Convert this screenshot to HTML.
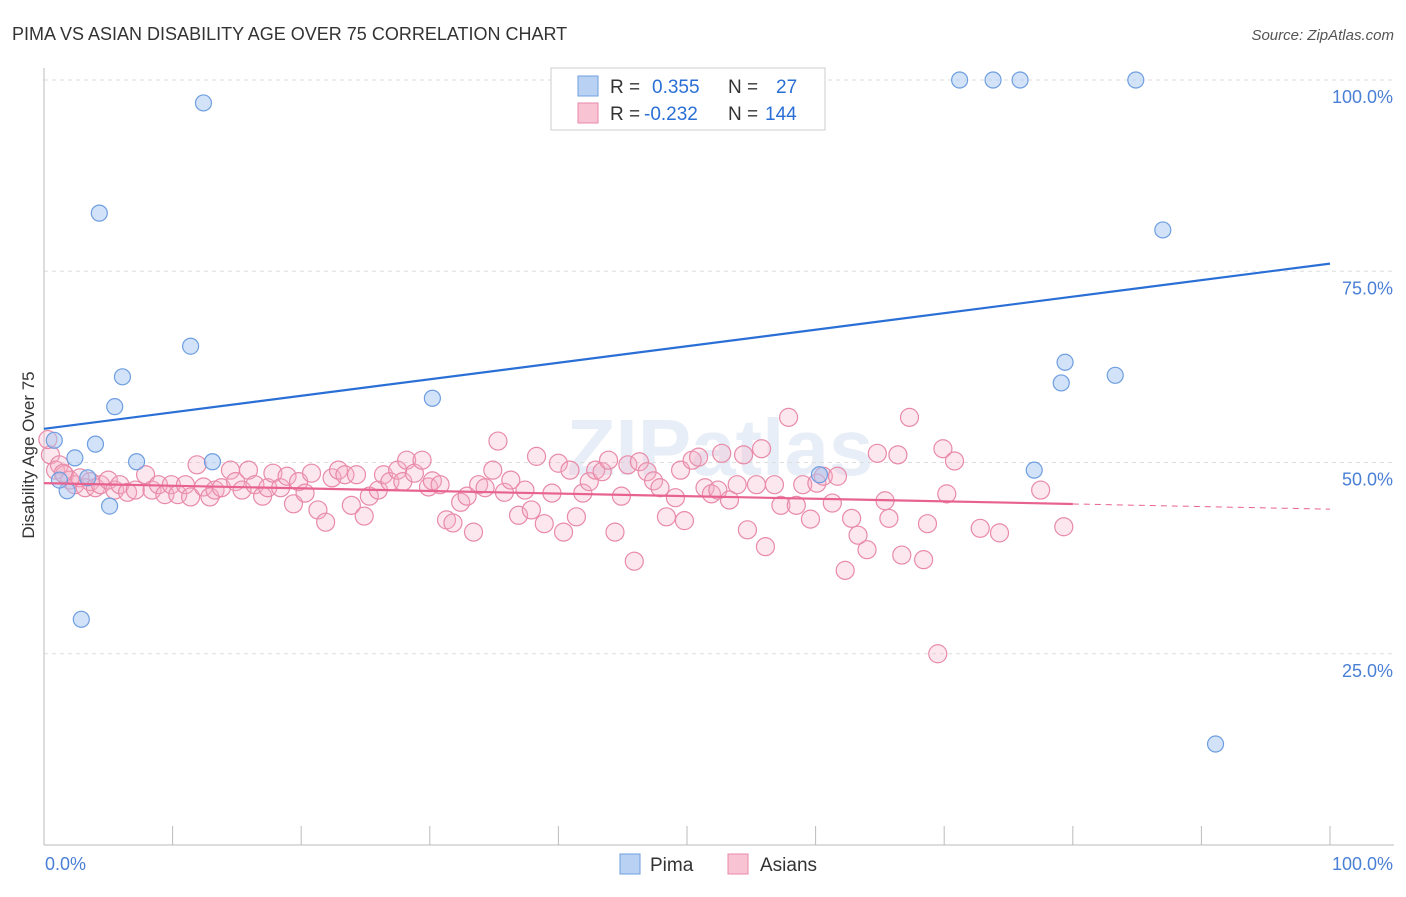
<!DOCTYPE html>
<html><head><meta charset="utf-8">
<style>
body{margin:0;background:#fff;font-family:"Liberation Sans",sans-serif;}
svg text{font-family:"Liberation Sans",sans-serif;}
</style></head>
<body>
<svg id="chart" width="1406" height="892" xmlns="http://www.w3.org/2000/svg">
<text x="12" y="40" font-size="18" fill="#333">PIMA VS ASIAN DISABILITY AGE OVER 75 CORRELATION CHART</text>
<text x="1394" y="40" font-size="15" fill="#555" font-style="italic" text-anchor="end">Source: ZipAtlas.com</text>
<text x="720" y="475" font-size="80" fill="#e8eef7" text-anchor="middle" font-weight="bold">ZIPatlas</text>
<g id="grid"></g>
<g id="axes"></g>
<g id="marks"></g>
<text transform="translate(34,455) rotate(-90)" font-size="17" fill="#333" text-anchor="middle">Disability Age Over 75</text>
<g>
<rect x="551" y="68" width="274" height="62" fill="#fff" stroke="#ccc"/>
<rect x="578" y="76" width="20" height="20" fill="#b9d1f3" stroke="#6e9ee0"/>
<rect x="578" y="103" width="20" height="20" fill="#f8c3d3" stroke="#e88aa8"/>
<text x="610" y="93" font-size="19" fill="#333">R = </text><text x="652" y="93" font-size="19" fill="#2a6fd6">0.355</text>
<text x="728" y="93" font-size="19" fill="#333">N = </text><text x="776" y="93" font-size="19" fill="#2a6fd6">27</text>
<text x="610" y="120" font-size="19" fill="#333">R = </text><text x="644" y="120" font-size="19" fill="#2a6fd6">-0.232</text>
<text x="728" y="120" font-size="19" fill="#333">N = </text><text x="765" y="120" font-size="19" fill="#2a6fd6">144</text>
</g>
<g>
<rect x="620" y="854" width="20" height="20" fill="#b9d1f3" stroke="#6e9ee0"/>
<text x="650" y="871" font-size="19" fill="#333">Pima</text>
<rect x="728" y="854" width="20" height="20" fill="#f8c3d3" stroke="#e88aa8"/>
<text x="760" y="871" font-size="19" fill="#333">Asians</text>
</g>
</svg>
<script>
const yTicks=[25,50,75,100];
const yTickLabels=["25.0%","50.0%","75.0%","100.0%"];
const pimaX=[12.4,4.3,11.4,6.1,5.5,4.0,0.8,2.4,7.2,13.1,30.2,1.8,5.1,2.9,1.2,3.4,71.2,73.8,75.9,84.9,87.0,79.4,79.1,83.3,77.0,91.1,60.3];
const pimaY=[97.0,82.6,65.2,61.2,57.3,52.4,52.9,50.6,50.1,50.1,58.4,46.3,44.3,29.5,47.7,48.0,100,100,100,100,80.4,63.1,60.4,61.4,49.0,13.2,48.4];
const asianX=[0.5,0.9,1.2,1.6,2.0,2.4,2.8,3.2,3.6,4.0,4.4,5.0,5.5,5.9,6.5,7.1,7.9,8.4,8.9,9.4,9.9,10.4,11.0,11.4,11.9,12.4,12.9,13.3,13.8,14.5,14.9,15.4,15.9,16.4,17.0,17.4,17.8,18.4,18.9,19.4,19.8,20.3,20.8,21.3,21.9,22.4,22.9,23.4,23.9,24.3,24.9,25.3,26.0,26.4,26.9,27.5,27.9,28.2,28.8,29.4,29.9,30.2,30.8,31.3,31.8,32.4,32.9,33.4,33.8,34.3,34.9,35.3,35.8,36.3,36.9,37.4,37.9,38.3,38.9,39.5,40.0,40.4,40.9,41.4,41.9,42.4,42.9,43.4,43.9,44.4,44.9,45.4,45.9,46.3,46.9,47.4,47.9,48.4,49.1,49.5,49.8,50.4,50.9,51.4,51.9,52.4,52.7,53.3,53.9,54.4,54.7,55.4,55.8,56.1,56.8,57.3,57.9,58.5,59.0,59.6,60.1,60.6,61.3,61.7,62.3,62.8,63.3,64.0,64.8,65.4,65.7,66.4,66.7,67.3,68.4,68.7,69.5,69.9,70.2,70.8,72.8,74.3,77.5,79.3,0.3,1.5];
const asianY=[51,49,49.7,48.4,47.7,47.1,48.0,46.7,47.5,46.7,47.1,47.7,46.4,47.1,46.1,46.4,48.4,46.4,47.1,45.8,47.1,45.8,47.1,45.5,49.7,46.8,45.5,46.4,46.7,49.0,47.5,46.4,49.0,47.1,45.6,46.7,48.6,46.7,48.2,44.6,47.5,46.0,48.6,43.8,42.2,48.0,49.0,48.4,44.4,48.4,43.0,45.6,46.4,48.4,47.5,49.0,47.5,50.3,48.6,50.3,46.8,47.6,47.1,42.5,42.1,44.8,45.6,40.9,47.1,46.7,49.0,52.8,46.1,47.7,43.1,46.4,43.8,50.8,42.0,46.0,49.9,40.9,49.0,42.9,46.0,47.5,49.0,48.8,50.3,40.9,45.6,49.7,37.1,50.1,48.8,47.6,46.7,42.9,45.4,49.0,42.4,50.3,50.7,46.7,45.9,46.4,51.2,45.1,47.1,51.0,41.2,47.1,51.8,39.0,47.1,44.4,55.9,44.4,47.1,42.6,47.3,48.2,44.7,48.2,35.9,42.7,40.5,38.6,51.2,45.0,42.7,51.0,37.9,55.9,37.3,42.0,25.0,51.8,45.9,50.2,41.4,40.8,46.4,41.6,53,48.6];
const pimaTrend=[54.4,76.0];
const asianTrend=[47.3,43.9];
const X0=44,X1=1330,Y0=845,Y100=80;
const sx=v=>X0+(X1-X0)*v/100;
const sy=v=>Y0-(Y0-Y100)*v/100;
const NS="http://www.w3.org/2000/svg";
function mk(t,a,p){const e=document.createElementNS(NS,t);for(const k in a)e.setAttribute(k,a[k]);p.appendChild(e);return e;}
const grid=document.getElementById('grid'),axes=document.getElementById('axes'),marks=document.getElementById('marks');
yTicks.forEach((t,i)=>{
 const l=mk('line',{x1:X0,x2:1394,y1:sy(t),y2:sy(t),stroke:'#ddd','stroke-dasharray':'4,4'},grid);
 
 
 const tx=mk('text',{x:1393,y:sy(t)+23,'font-size':18,fill:'#4a7fd6','text-anchor':'end'},axes);
 tx.textContent=yTickLabels[i];
 
 
});
const ax=mk('line',{x1:X0,x2:1394,y1:Y0,y2:Y0,stroke:'#bbb'},axes);


const ay=mk('line',{x1:X0,x2:X0,y1:68,y2:Y0,stroke:'#bbb'},axes);


for(let i=0;i<=10;i++){
 const tk=mk('line',{x1:sx(i*10),x2:sx(i*10),y1:826,y2:Y0,stroke:'#bbb'},axes);
 
 
}
const xl0=mk('text',{x:45,y:870,'font-size':18,fill:'#4a7fd6'},axes);xl0.textContent='0.0%';


const xl1=mk('text',{x:1393,y:870,'font-size':18,fill:'#4a7fd6','text-anchor':'end'},axes);xl1.textContent='100.0%';


asianX.forEach((x,i)=>{
 const c=mk('circle',{cx:sx(x),cy:sy(asianY[i]),r:9,fill:'rgba(245,175,198,0.3)',stroke:'#e88aa8','stroke-width':1.2},marks);
 
 
});
pimaX.forEach((x,i)=>{
 const c=mk('circle',{cx:sx(x),cy:sy(pimaY[i]),r:8,fill:'rgba(165,198,242,0.5)',stroke:'#6e9ee0','stroke-width':1.2},marks);
 
 
});
const pt=mk('line',{x1:sx(0),y1:sy(pimaTrend[0]),x2:sx(100),y2:sy(pimaTrend[1]),stroke:'#2a6fd6','stroke-width':2.2},marks);


const at=(v)=>asianTrend[0]+(asianTrend[1]-asianTrend[0])*v/100;
const a1=mk('line',{x1:sx(0),y1:sy(at(0)),x2:sx(80),y2:sy(at(80)),stroke:'#e8628f','stroke-width':2.2},marks);


const a2=mk('line',{x1:sx(80),y1:sy(at(80)),x2:sx(100),y2:sy(at(100)),stroke:'#e8628f','stroke-width':1,'stroke-dasharray':'6,5'},marks);


</script>
</body></html>
